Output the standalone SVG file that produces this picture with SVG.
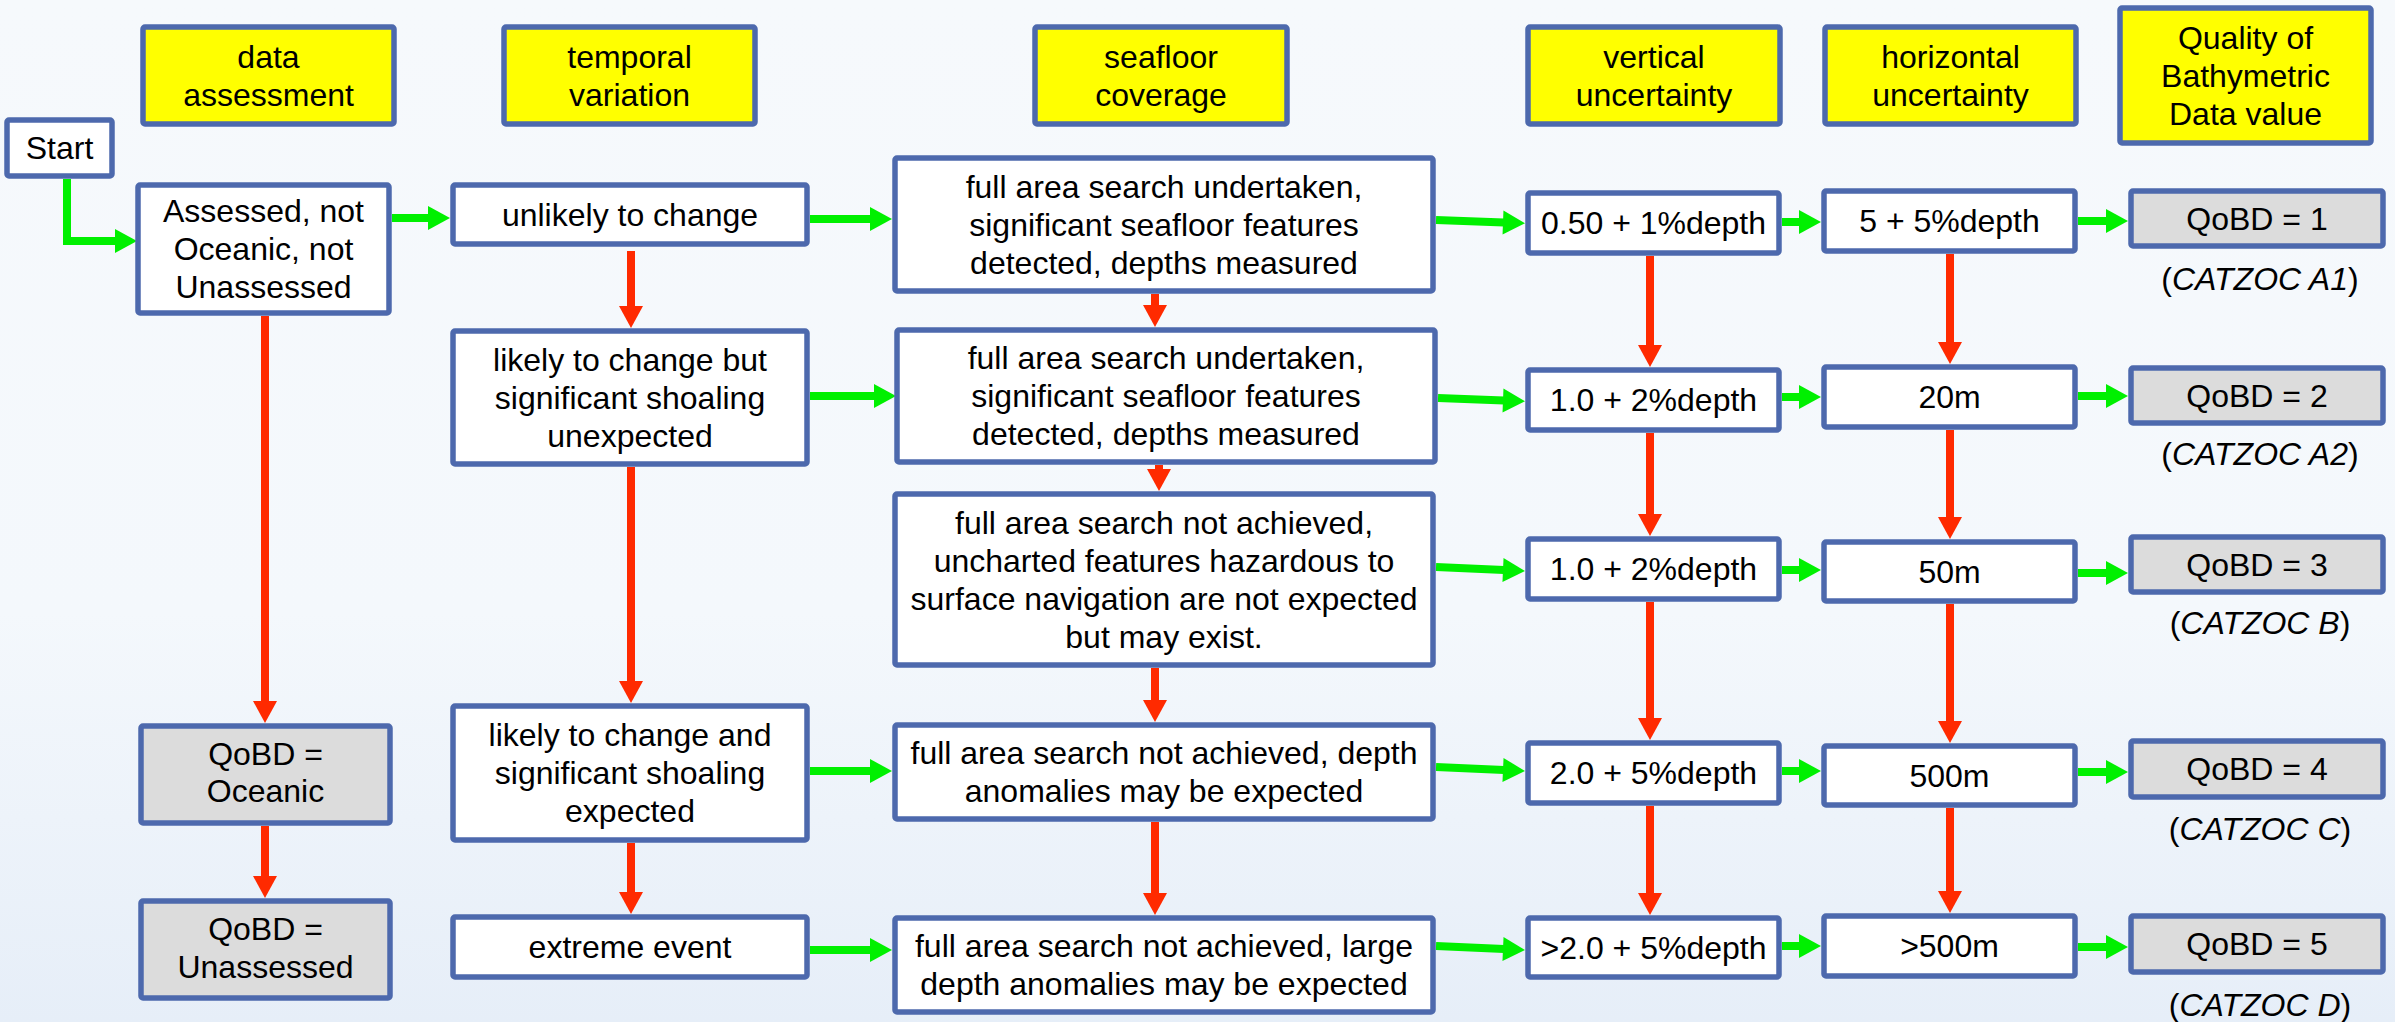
<svg xmlns="http://www.w3.org/2000/svg" width="2395" height="1022" viewBox="0 0 2395 1022">
<defs>
<linearGradient id="bg" x1="0" y1="0" x2="0" y2="1">
<stop offset="0" stop-color="#f6f9fc"/>
<stop offset="0.6" stop-color="#f4f8fc"/>
<stop offset="1" stop-color="#e6eef8"/>
</linearGradient>
<marker id="ag" markerUnits="userSpaceOnUse" markerWidth="24" markerHeight="26" refX="1" refY="12" orient="auto" overflow="visible">
<path d="M0,0 L22,12 L0,24 Z" fill="#00f000"/>
</marker>
<marker id="ar" markerUnits="userSpaceOnUse" markerWidth="24" markerHeight="26" refX="1" refY="12" orient="auto" overflow="visible">
<path d="M0,0 L22,12 L0,24 Z" fill="#ff2a00"/>
</marker>
</defs>
<style>
.b{stroke:#4d69ad;stroke-width:5.5;}
.h{fill:#ffff00;}
.w{fill:#ffffff;}
.g{fill:#dcdcdc;}
text{font-family:"Liberation Sans",Arial,sans-serif;font-size:32px;fill:#000;text-anchor:middle;}
.it{font-style:italic;}
.cg{fill:none;stroke:#00f000;stroke-width:8;marker-end:url(#ag);}
.cr{fill:none;stroke:#ff2a00;stroke-width:8;marker-end:url(#ar);}
</style>
<rect x="0" y="0" width="2395" height="1022" fill="url(#bg)"/>

<g id="connectors">
<path class="cg" d="M67,179 V241 H116"/>
<path class="cg" d="M392,218 H429"/>
<path class="cg" d="M810,219 H871"/>
<path class="cg" d="M810,396 H875"/>
<path class="cg" d="M810,771 H871"/>
<path class="cg" d="M810,950 H871"/>
<path class="cg" d="M1436,220 L1504,222.5"/>
<path class="cg" d="M1438,398 L1504,400.5"/>
<path class="cg" d="M1436,567 L1504,570"/>
<path class="cg" d="M1436,767 L1504,770"/>
<path class="cg" d="M1436,946 L1504,949"/>
<path class="cg" d="M1782,222 H1800"/>
<path class="cg" d="M1782,397 H1800"/>
<path class="cg" d="M1782,570 H1800"/>
<path class="cg" d="M1782,771 H1800"/>
<path class="cg" d="M1782,946 H1800"/>
<path class="cg" d="M2078,221 H2107"/>
<path class="cg" d="M2078,396 H2107"/>
<path class="cg" d="M2078,573 H2107"/>
<path class="cg" d="M2078,772 H2107"/>
<path class="cg" d="M2078,947 H2107"/>
<path class="cr" d="M265,316 V702"/>
<path class="cr" d="M265,826 V877"/>
<path class="cr" d="M631,251 V307"/>
<path class="cr" d="M631,467 V682"/>
<path class="cr" d="M631,843 V893"/>
<path class="cr" d="M1155,294 V306"/>
<path class="cr" d="M1159,465 V470"/>
<path class="cr" d="M1155,668 V701"/>
<path class="cr" d="M1155,822 V894"/>
<path class="cr" d="M1650,256 V346"/>
<path class="cr" d="M1650,433 V515"/>
<path class="cr" d="M1650,602 V719"/>
<path class="cr" d="M1650,806 V894"/>
<path class="cr" d="M1950,254 V343"/>
<path class="cr" d="M1950,430 V518"/>
<path class="cr" d="M1950,604 V722"/>
<path class="cr" d="M1950,808 V892"/>
</g>

<g id="hdr-data"><rect class="b h" x="143" y="27" width="251" height="97" rx="2"/><text x="268.5" y="67.5">data</text><text x="268.5" y="105.5">assessment</text></g>
<g id="hdr-temporal"><rect class="b h" x="504" y="27" width="251" height="97" rx="2"/><text x="629.5" y="67.5">temporal</text><text x="629.5" y="105.5">variation</text></g>
<g id="hdr-seafloor"><rect class="b h" x="1035" y="27" width="252" height="97" rx="2"/><text x="1161" y="67.5">seafloor</text><text x="1161" y="105.5">coverage</text></g>
<g id="hdr-vertical"><rect class="b h" x="1528" y="27" width="252" height="97" rx="2"/><text x="1654" y="67.5">vertical</text><text x="1654" y="105.5">uncertainty</text></g>
<g id="hdr-horizontal"><rect class="b h" x="1825" y="27" width="251" height="97" rx="2"/><text x="1950.5" y="67.5">horizontal</text><text x="1950.5" y="105.5">uncertainty</text></g>
<g id="hdr-quality"><rect class="b h" x="2120" y="8" width="251" height="135" rx="2"/><text x="2245.5" y="48.5">Quality of</text><text x="2245.5" y="86.5">Bathymetric</text><text x="2245.5" y="124.5">Data value</text></g>

<g id="start"><rect class="b w" x="7" y="120" width="105" height="56" rx="2"/><text x="59.5" y="159">Start</text></g>
<g id="assessed"><rect class="b w" x="138" y="185" width="251" height="128" rx="2"/><text x="263.5" y="222">Assessed, not</text><text x="263.5" y="260">Oceanic, not</text><text x="263.5" y="298">Unassessed</text></g>
<g id="oceanic"><rect class="b g" x="141" y="726" width="249" height="97" rx="2"/><text x="265.5" y="765">QoBD =</text><text x="265.5" y="802">Oceanic</text></g>
<g id="unassessed"><rect class="b g" x="141" y="901" width="249" height="97" rx="2"/><text x="265.5" y="940">QoBD =</text><text x="265.5" y="978">Unassessed</text></g>

<g id="t1"><rect class="b w" x="453" y="185" width="354" height="59" rx="2"/><text x="630" y="225.5">unlikely to change</text></g>
<g id="t2"><rect class="b w" x="453" y="331" width="354" height="133" rx="2"/><text x="630" y="370.5">likely to change but</text><text x="630" y="408.5">significant shoaling</text><text x="630" y="446.5">unexpected</text></g>
<g id="t3"><rect class="b w" x="453" y="706" width="354" height="134" rx="2"/><text x="630" y="746">likely to change and</text><text x="630" y="784">significant shoaling</text><text x="630" y="822">expected</text></g>
<g id="t4"><rect class="b w" x="453" y="917" width="354" height="60" rx="2"/><text x="630" y="958">extreme event</text></g>

<g id="s1"><rect class="b w" x="895" y="158" width="538" height="133" rx="2"/><text x="1164" y="197.5">full area search undertaken,</text><text x="1164" y="235.5">significant seafloor features</text><text x="1164" y="273.5">detected, depths measured</text></g>
<g id="s2"><rect class="b w" x="897" y="330" width="538" height="132" rx="2"/><text x="1166" y="369">full area search undertaken,</text><text x="1166" y="407">significant seafloor features</text><text x="1166" y="445">detected, depths measured</text></g>
<g id="s3"><rect class="b w" x="895" y="494" width="538" height="171" rx="2"/><text x="1164" y="533.5">full area search not achieved,</text><text x="1164" y="571.5">uncharted features hazardous to</text><text x="1164" y="609.5">surface navigation are not expected</text><text x="1164" y="647.5">but may exist.</text></g>
<g id="s4"><rect class="b w" x="895" y="725" width="538" height="94" rx="2"/><text x="1164" y="764">full area search not achieved, depth</text><text x="1164" y="802">anomalies may be expected</text></g>
<g id="s5"><rect class="b w" x="895" y="918" width="538" height="94" rx="2"/><text x="1164" y="957">full area search not achieved, large</text><text x="1164" y="995">depth anomalies may be expected</text></g>

<g id="v1"><rect class="b w" x="1528" y="193" width="251" height="60" rx="2"/><text x="1653.5" y="234">0.50 + 1%depth</text></g>
<g id="v2"><rect class="b w" x="1528" y="370" width="251" height="60" rx="2"/><text x="1653.5" y="411">1.0 + 2%depth</text></g>
<g id="v3"><rect class="b w" x="1528" y="539" width="251" height="60" rx="2"/><text x="1653.5" y="580">1.0 + 2%depth</text></g>
<g id="v4"><rect class="b w" x="1528" y="743" width="251" height="60" rx="2"/><text x="1653.5" y="784">2.0 + 5%depth</text></g>
<g id="v5"><rect class="b w" x="1528" y="918" width="251" height="59" rx="2"/><text x="1653.5" y="958.5">&gt;2.0 + 5%depth</text></g>

<g id="h1"><rect class="b w" x="1824" y="191" width="251" height="60" rx="2"/><text x="1949.5" y="232">5 + 5%depth</text></g>
<g id="h2"><rect class="b w" x="1824" y="367" width="251" height="60" rx="2"/><text x="1949.5" y="408">20m</text></g>
<g id="h3"><rect class="b w" x="1824" y="542" width="251" height="59" rx="2"/><text x="1949.5" y="582.5">50m</text></g>
<g id="h4"><rect class="b w" x="1824" y="746" width="251" height="59" rx="2"/><text x="1949.5" y="786.5">500m</text></g>
<g id="h5"><rect class="b w" x="1824" y="916" width="251" height="60" rx="2"/><text x="1949.5" y="957">&gt;500m</text></g>

<g id="q1"><rect class="b g" x="2131" y="191" width="252" height="55" rx="2"/><text x="2257" y="229.5">QoBD = 1</text><text x="2260" y="290">(<tspan class="it">CATZOC A1</tspan>)</text></g>
<g id="q2"><rect class="b g" x="2131" y="368" width="252" height="55" rx="2"/><text x="2257" y="406.5">QoBD = 2</text><text x="2260" y="465">(<tspan class="it">CATZOC A2</tspan>)</text></g>
<g id="q3"><rect class="b g" x="2131" y="537" width="252" height="55" rx="2"/><text x="2257" y="575.5">QoBD = 3</text><text x="2260" y="634">(<tspan class="it">CATZOC B</tspan>)</text></g>
<g id="q4"><rect class="b g" x="2131" y="741" width="252" height="56" rx="2"/><text x="2257" y="780">QoBD = 4</text><text x="2260" y="840">(<tspan class="it">CATZOC C</tspan>)</text></g>
<g id="q5"><rect class="b g" x="2131" y="916" width="252" height="56" rx="2"/><text x="2257" y="955">QoBD = 5</text><text x="2260" y="1016">(<tspan class="it">CATZOC D</tspan>)</text></g>
</svg>
